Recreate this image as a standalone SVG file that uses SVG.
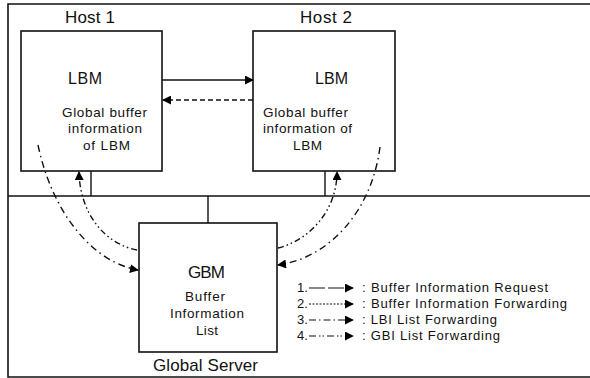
<svg xmlns="http://www.w3.org/2000/svg" width="590" height="378" viewBox="0 0 590 378">
  <defs>
    <marker id="ah" viewBox="0 0 10 10" refX="9" refY="5" markerWidth="9" markerHeight="9" markerUnits="userSpaceOnUse" orient="auto">
      <path d="M0,0 L10,5 L0,10 Z" fill="#000"/>
    </marker>
    <style>
      text { font-family: "Liberation Sans", Arial, sans-serif; fill: #111; }
      .frame { fill: none; stroke: #111; stroke-width: 1.6; }
      .box { fill: #fff; stroke: #111; stroke-width: 1.6; }
      .wire { stroke: #111; stroke-width: 1.4; fill: none; }
      .req { stroke: #111; stroke-width: 1.5; fill: none; marker-end: url(#ah); }
      .fwd { stroke: #111; stroke-width: 1.4; fill: none; stroke-dasharray: 5 3; marker-end: url(#ah); }
      .lbi { stroke: #111; stroke-width: 1.4; fill: none; stroke-dasharray: 7 4 1.5 4; marker-end: url(#ah); }
      .gbi { stroke: #111; stroke-width: 1.4; fill: none; stroke-dasharray: 6 3 1.5 3 1.5 3; marker-end: url(#ah); }
      .lg1 { stroke: #111; stroke-width: 1.2; fill: none; stroke-dasharray: 16 3; marker-end: url(#ah); }
      .lg2 { stroke: #111; stroke-width: 1.2; fill: none; stroke-dasharray: 2 1.5; marker-end: url(#ah); }
      .lg3 { stroke: #111; stroke-width: 1.2; fill: none; stroke-dasharray: 7 3 1.5 3; marker-end: url(#ah); }
      .lg4 { stroke: #111; stroke-width: 1.2; fill: none; stroke-dasharray: 7 3 1.5 2 1.5 3; marker-end: url(#ah); }
      .title { font-size: 17px; }
      .name { font-size: 16px; }
      .server { font-size: 17px; }
      .body { font-size: 13.5px; }
      .legend { font-size: 13px; }
    </style>
  </defs>

  <!-- outer enclosure, open on the right, with the host / server divider -->
  <path class="frame" d="M592,4 H8 V377 H592 M8,196 H592"/>

  <!-- host labels -->
  <text class="title" x="90" y="23" text-anchor="middle" textLength="50">Host 1</text>
  <text class="title" x="326" y="23" text-anchor="middle" textLength="52">Host 2</text>

  <!-- bus stubs from each host and the server to the divider -->
  <g id="bus">
    <line class="wire" x1="91" y1="171" x2="91" y2="196"/>
    <line class="wire" x1="325" y1="171" x2="325" y2="196"/>
    <line class="wire" x1="208" y1="196" x2="208" y2="223"/>
  </g>

  <g id="lbm1">
    <rect class="box" x="21" y="31" width="141" height="140"/>
    <text class="name" x="85" y="84" text-anchor="middle" textLength="34">LBM</text>
    <text class="body" x="104.5" y="117" text-anchor="middle" textLength="85">Global buffer</text>
    <text class="body" x="105" y="133" text-anchor="middle" textLength="74">information</text>
    <text class="body" x="106.5" y="150" text-anchor="middle" textLength="47">of LBM</text>
  </g>

  <g id="lbm2">
    <rect class="box" x="253" y="31" width="142" height="140"/>
    <text class="name" x="331.5" y="84" text-anchor="middle" textLength="33">LBM</text>
    <text class="body" x="305.5" y="117" text-anchor="middle" textLength="85">Global buffer</text>
    <text class="body" x="307.5" y="133" text-anchor="middle" textLength="89">information of</text>
    <text class="body" x="307.5" y="150" text-anchor="middle" textLength="29">LBM</text>
  </g>

  <g id="gbm">
    <rect class="box" x="139" y="223" width="138" height="129"/>
    <text class="title" x="206.5" y="278" text-anchor="middle" textLength="37">GBM</text>
    <text class="body" x="205" y="301" text-anchor="middle" textLength="40">Buffer</text>
    <text class="body" x="207" y="318" text-anchor="middle" textLength="74">Information</text>
    <text class="body" x="207" y="335" text-anchor="middle" textLength="22">List</text>
    <text class="server" x="205.5" y="371" text-anchor="middle" textLength="105">Global Server</text>
  </g>

  <g id="connectors">
    <!-- buffer information request / forwarding between hosts -->
    <line class="req" x1="162" y1="80" x2="253" y2="80"/>
    <line class="fwd" x1="253" y1="100" x2="163" y2="100"/>
    <!-- LBI list forwarding (host to server) -->
    <path class="lbi" d="M38,145 C52,212 92,262 138,270"/>
    <path class="lbi" d="M380,147 C372,210 330,258 278,265"/>
    <!-- GBI list forwarding (server to host) -->
    <path class="gbi" d="M137,250 C105,244 80,214 79,172"/>
    <path class="gbi" d="M278,248 C310,240 337,210 337,172"/>
  </g>

  <g id="legend">
    <text class="legend" x="297" y="292">1.</text>
    <line class="lg1" x1="309" y1="288" x2="353" y2="288"/>
    <text class="legend" x="362" y="292" textLength="186">: Buffer Information Request</text>
    <text class="legend" x="297" y="308">2.</text>
    <line class="lg2" x1="309" y1="304" x2="353" y2="304"/>
    <text class="legend" x="362" y="308" textLength="205">: Buffer Information Forwarding</text>
    <text class="legend" x="297" y="324">3.</text>
    <line class="lg3" x1="309" y1="320" x2="353" y2="320"/>
    <text class="legend" x="362" y="324" textLength="135">: LBI List Forwarding</text>
    <text class="legend" x="297" y="340">4.</text>
    <line class="lg4" x1="309" y1="336" x2="353" y2="336"/>
    <text class="legend" x="362" y="340" textLength="138">: GBI List Forwarding</text>
  </g>
</svg>
